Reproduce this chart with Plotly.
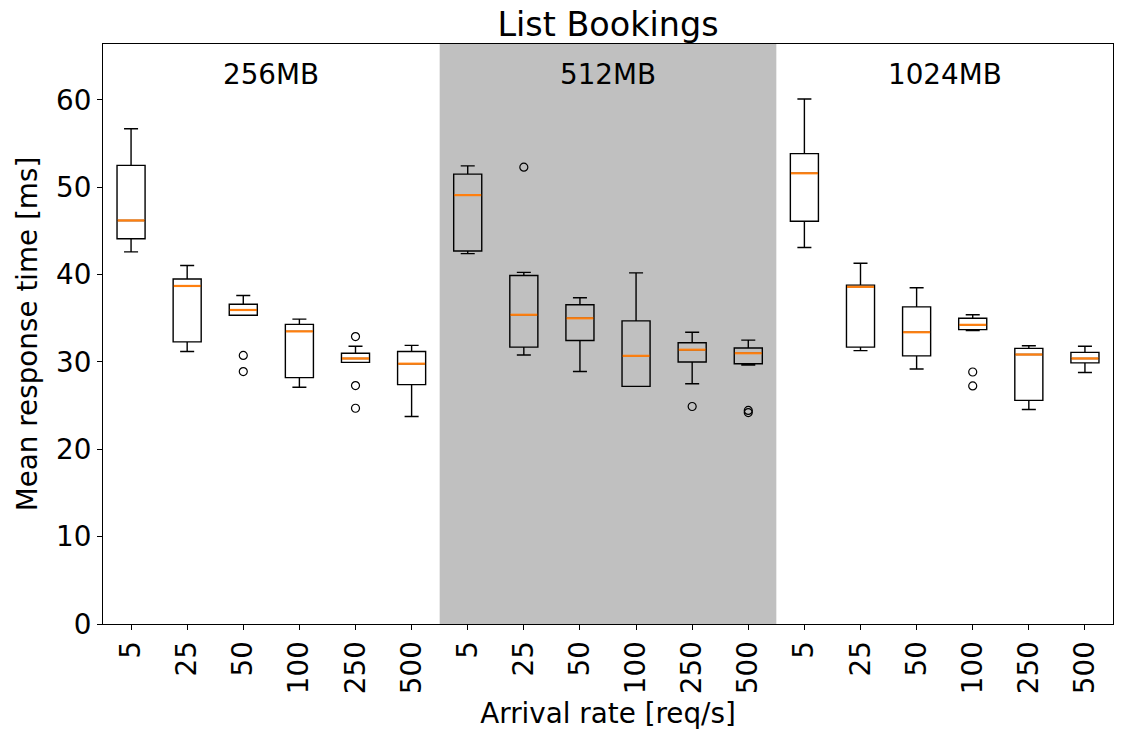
import plotly.graph_objects as go

# ---- data ----
groups = ["256MB", "512MB", "1024MB"]
rates = ["5", "25", "50", "100", "250", "500"]

whisker_low = [42.6, 31.2, 35.35, 27.1, 29.95, 23.75,
               42.4, 30.8, 28.9, 27.2, 27.5, 29.65,
               43.1, 31.3, 29.2, 33.6, 24.55, 28.8]
q1 = [44.1, 32.3, 35.35, 28.2, 29.95, 27.4,
      42.7, 31.7, 32.45, 27.2, 30.0, 29.8,
      46.1, 31.7, 30.7, 33.7, 25.6, 29.9]
median = [46.2, 38.7, 35.95, 33.5, 30.4, 29.8,
          49.1, 35.4, 35.0, 30.7, 31.4, 31.0,
          51.6, 38.6, 33.4, 34.25, 30.85, 30.4]
q3 = [52.5, 39.5, 36.6, 34.3, 31.0, 31.2,
      51.5, 39.9, 36.55, 34.7, 32.2, 31.6,
      53.85, 38.8, 36.3, 35.0, 31.55, 31.1]
whisker_high = [56.7, 41.05, 37.6, 34.9, 31.8, 31.9,
                52.45, 40.25, 37.35, 40.2, 33.4, 32.5,
                60.1, 41.3, 38.5, 35.4, 31.85, 31.8]
outliers = [[], [], [30.75, 28.9], [], [32.9, 27.3, 24.7], [],
            [], [52.3], [], [], [24.9], [24.45, 24.2],
            [], [], [], [28.85, 27.25], [], []]

y_ticks = [0, 10, 20, 30, 40, 50, 60]
y_max = 66.4

# ---- derived positions ----
n_r = len(rates)
positions = [i + 1 for i in range(len(groups) * n_r)]
tick_text = [r for g in groups for r in rates]
box_w = 0.5

fig = go.Figure()

fig.add_trace(go.Box(
    x=positions, q1=q1, median=median, q3=q3,
    lowerfence=whisker_low, upperfence=whisker_high,
    width=box_w, whiskerwidth=0.5, boxpoints=False,
    fillcolor="rgba(0,0,0,0)",
    line=dict(color="black", width=1.4),
    showlegend=False, hoverinfo="skip",
))

# median lines (orange)
mx, my = [], []
for p, m in zip(positions, median):
    mx += [p - box_w / 2 + 0.01, p + box_w / 2 - 0.01, None]
    my += [m, m, None]
fig.add_trace(go.Scatter(x=mx, y=my, mode="lines",
                         line=dict(color="#ff7f0e", width=2.2),
                         showlegend=False, hoverinfo="skip"))

# outliers
ox, oy = [], []
for p, outs in zip(positions, outliers):
    for v in outs:
        ox.append(p)
        oy.append(v)
fig.add_trace(go.Scatter(x=ox, y=oy, mode="markers",
                         marker=dict(symbol="circle-open", size=8,
                                     color="black", line=dict(width=1.2)),
                         showlegend=False, hoverinfo="skip"))

# shaded middle group
fig.add_shape(type="rect", xref="x", yref="paper",
              x0=n_r + 0.5, x1=2 * n_r + 0.5, y0=0, y1=1,
              fillcolor="#c0c0c0", line=dict(width=0), layer="below")

# group labels
for gi, g in enumerate(groups):
    fig.add_annotation(x=gi * n_r + (n_r + 1) / 2, y=0.948, xref="x", yref="paper",
                       xanchor="center", yanchor="middle",
                       text=g, showarrow=False,
                       font=dict(size=27.8, color="black"))

font_family = "DejaVu Sans"
fig.update_layout(
    width=1127, height=736,
    margin=dict(l=103, r=14, t=44, b=110),
    plot_bgcolor="white", paper_bgcolor="white",
    font=dict(family=font_family, size=27.8, color="black"),
    title=dict(text="List Bookings", x=0.5, xanchor="center",
               xref="paper", y=1 - 24 / 736, yanchor="middle",
               font=dict(size=33.4)),
    xaxis=dict(range=[0.5, len(positions) + 0.5], tickmode="array",
               tickvals=positions, ticktext=tick_text, tickangle=-90,
               ticks="outside", ticklen=5, tickwidth=1, tickcolor="black",
               showgrid=False, zeroline=False, showline=True, mirror=True,
               linecolor="black", linewidth=1,
               title=dict(text="Arrival rate [req/s]", standoff=10,
                          font=dict(size=27.8)),
               tickfont=dict(size=27.8)),
    yaxis=dict(range=[0, y_max], tickmode="array", tickvals=y_ticks,
               ticks="outside", ticklen=5, tickwidth=1, tickcolor="black",
               showgrid=False, zeroline=False, showline=True, mirror=True,
               linecolor="black", linewidth=1,
               title=dict(text="Mean response time [ms]", standoff=10,
                          font=dict(size=27.8)),
               tickfont=dict(size=27.8)),
)

fig.write_html("out.html")
